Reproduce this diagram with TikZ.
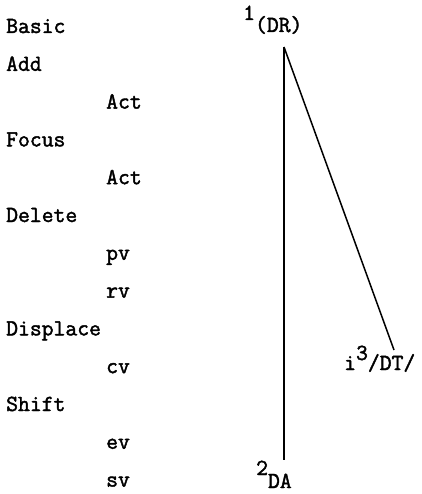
\documentclass[tikz,border=0pt]{standalone}
\usepackage{fontspec}
\setmonofont{Latin Modern Mono}[AutoFakeBold=1.8]
\usetikzlibrary{positioning}

\begin{document}
\begin{tikzpicture}[
    x=1pt, y=-1pt,
    lbl/.style={anchor=base west, inner sep=0pt, font=\ttfamily\bfseries\fontsize{23}{27}\selectfont},
    branch/.style={line width=1.5pt}
]
    \useasboundingbox (0,0) rectangle (421,494);

    % left column of operations
    \foreach \txt/\xpos [count=\i from 0] in {Basic/6, Add/6, Act/106, Focus/6, Act/106, Delete/6,
        pv/106, rv/106, Displace/6, cv/106, Shift/6, ev/106, sv/106}
        \node[lbl] (row\i) at (\xpos, 33+37.8*\i) {\txt};

    % tree
    \coordinate (apex) at (284,47);
    \coordinate (lower) at (284,460);
    \coordinate (side) at (394,350);
    \node[lbl] (dr) at (243,32) {\raisebox{12pt}{1}(DR)};
    \node[lbl] (dt) at (344,370) {i\raisebox{10pt}{3}/DT/};
    \node[lbl] (da) at (256,488) {\raisebox{13pt}{2}DA};

    \draw[branch] (apex) -- (lower);
    \draw[branch] (apex) -- (side);
\end{tikzpicture}
\end{document}
